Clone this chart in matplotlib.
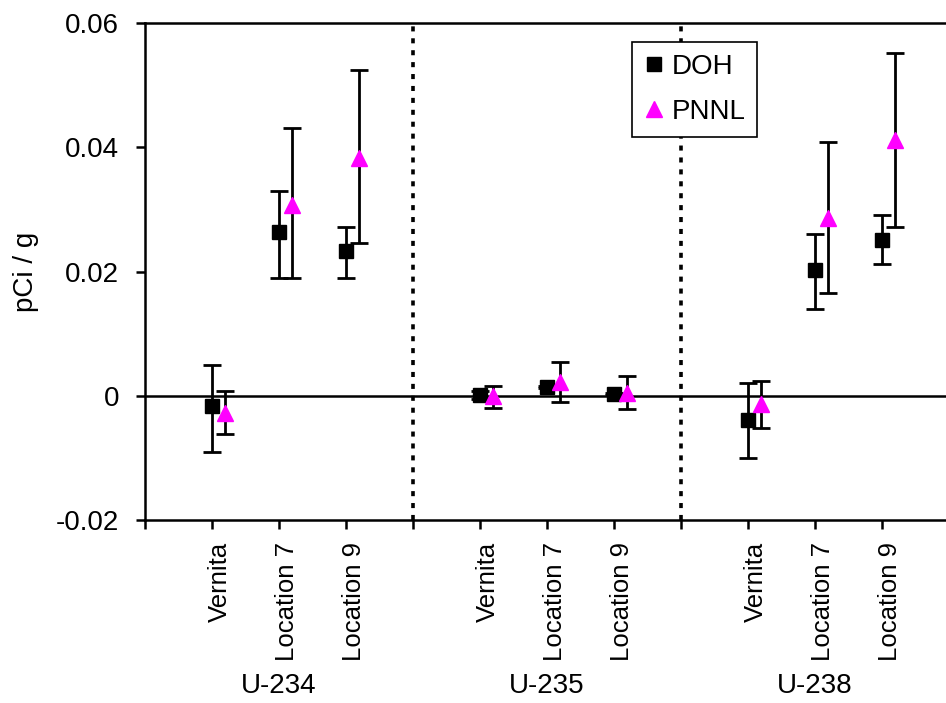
import matplotlib
matplotlib.use("Agg")
import matplotlib.pyplot as plt
from matplotlib.lines import Line2D

plt.rcParams['font.family'] = ['Liberation Sans', 'DejaVu Sans']

# slot positions: 3 sites per isotope, blank slot between isotopes
isotopes = ["U-234", "U-235", "U-238"]
sites = ["Vernita", "Location 7", "Location 9"]
x_doh = [1, 2, 3, 5, 6, 7, 9, 10, 11]
dividers = [4, 8]

doh_val = [-0.0017, 0.0263, 0.0233, 0.0001, 0.0014, 0.0003, -0.0039, 0.0203, 0.0251]
doh_hi = [0.0049, 0.0329, 0.0271, 0.0008, 0.0016, 0.0005, 0.0020, 0.0261, 0.0291]
doh_lo = [-0.0091, 0.0189, 0.0189, -0.0006, 0.0012, 0.0001, -0.0101, 0.0140, 0.0212]

pnnl_val = [-0.0028, 0.0307, 0.0383, 0.0000, 0.0022, 0.0004, -0.0014, 0.0286, 0.0412]
pnnl_hi = [0.0007, 0.0431, 0.0525, 0.0016, 0.0054, 0.0031, 0.0023, 0.0408, 0.0551]
pnnl_lo = [-0.0061, 0.0189, 0.0246, -0.0019, -0.0010, -0.0022, -0.0052, 0.0166, 0.0272]

x_pnnl = [x + 0.2 for x in x_doh]

fs = 20

fig = plt.figure(figsize=(9.46, 7.03), dpi=100)
ax = fig.add_axes([145 / 946, 1 - 520 / 703, 804 / 946, 497 / 703])

# zero line and dotted group dividers
ax.axhline(0, color="black", lw=1.8, zorder=1)
for d in dividers:
    ax.axvline(d, color="black", lw=2.6, linestyle=(0, (1.4, 1.9)),
               dash_capstyle="butt", zorder=1)

doh_err = [[v - lo for v, lo in zip(doh_val, doh_lo)],
           [hi - v for v, hi in zip(doh_val, doh_hi)]]
pnnl_err = [[v - lo for v, lo in zip(pnnl_val, pnnl_lo)],
            [hi - v for v, hi in zip(pnnl_val, pnnl_hi)]]

ax.errorbar(x_doh, doh_val, yerr=doh_err, fmt="s", color="black", ms=10,
            ecolor="black", elinewidth=2.0, capsize=6.5, capthick=2.0,
            zorder=3)
ax.errorbar(x_pnnl, pnnl_val, yerr=pnnl_err, fmt="^", color="#FF00FF",
            mec="#FF00FF", ms=12, ecolor="black", elinewidth=2.0,
            capsize=6.5, capthick=2.0, zorder=3)

ax.set_xlim(0, 12)
ax.set_ylim(-0.02, 0.06)
ax.set_yticks([-0.02, 0, 0.02, 0.04, 0.06])
ax.set_yticklabels(["-0.02", "0", "0.02", "0.04", "0.06"])
ax.set_xticks(range(0, 12))
ax.set_xticklabels([])
ax.tick_params(axis="both", direction="out", length=6.5, width=1.8,
               labelsize=fs, color="black")
ax.tick_params(axis="y", pad=12)

for s in ["left", "bottom", "top"]:
    ax.spines[s].set_linewidth(1.8)
ax.spines["right"].set_visible(False)

ax.set_ylabel("pCi / g", fontsize=fs, labelpad=12)

# category and group labels below the axis
tr = ax.get_xaxis_transform()
for i, xp in enumerate(x_doh):
    ax.text(xp + 0.12, -0.045, sites[i % 3], rotation=90, ha="center",
            va="top", fontsize=18.5, transform=tr)
for g, name in enumerate(isotopes):
    ax.text(x_doh[g * 3 + 1], -0.335, name, ha="center", va="center",
            fontsize=fs, transform=tr)

handles = [Line2D([], [], marker="s", color="black", ls="none", ms=10),
           Line2D([], [], marker="^", color="#FF00FF", ls="none", ms=12)]
leg = ax.legend(handles, ["DOH", "PNNL"], loc="upper left",
                bbox_to_anchor=(0.606, 0.962), borderaxespad=0, fontsize=fs,
                frameon=True, fancybox=False, handlelength=0.7,
                handletextpad=0.3, labelspacing=0.7, borderpad=0.42)
leg.get_frame().set_edgecolor("black")
leg.get_frame().set_linewidth(1.2)
leg.get_frame().set_alpha(1)

fig.savefig("out.png", dpi=100)
